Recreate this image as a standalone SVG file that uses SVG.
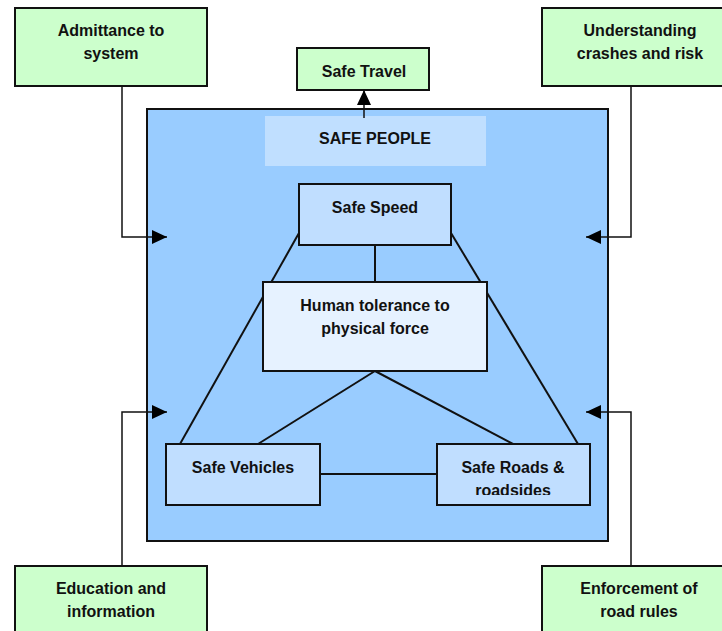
<svg xmlns="http://www.w3.org/2000/svg" width="722" height="631" viewBox="0 0 722 631">
<style>
text{font-family:"Liberation Sans",Arial,sans-serif;font-weight:bold;font-size:16px;fill:#111;text-anchor:middle}
.g{fill:#CCFFCC;stroke:#111;stroke-width:2}
.b{fill:#C0DEFF;stroke:#111;stroke-width:2}
.c{fill:none;stroke:#111;stroke-width:2}
</style>
<defs>
<marker id="ah" viewBox="0 0 15 14" refX="15" refY="7" markerWidth="15" markerHeight="14" markerUnits="userSpaceOnUse" orient="auto">
<path d="M0,0L15,7L0,14Z" fill="#000"/>
</marker>
<clipPath id="clipRoads"><rect x="437" y="444" width="153" height="51"/></clipPath>
</defs>
<rect x="0" y="0" width="722" height="631" fill="#fff"/>
<g id="main-area">
<rect x="147" y="109" width="461" height="432" fill="#99CCFF" stroke="#111" stroke-width="2"/>
</g>
<g id="safe-people">
<rect x="265" y="116" width="221" height="50" fill="#C0DFFF"/>
<text x="375" y="144">SAFE PEOPLE</text>
</g>
<g id="connectors">
<path class="c" d="M122,86V237H167" marker-end="url(#ah)" style="stroke-width:1.5"/>
<path class="c" d="M631,86V237H586" marker-end="url(#ah)" style="stroke-width:1.5"/>
<path class="c" d="M122,566V412H167" marker-end="url(#ah)" style="stroke-width:1.5"/>
<path class="c" d="M631,566V412H586" marker-end="url(#ah)" style="stroke-width:1.5"/>
<path class="c" d="M364,118V90" marker-end="url(#ah)" style="stroke-width:1.5"/>
<line class="c" x1="375" y1="245" x2="375" y2="282"/>
<line class="c" x1="299" y1="233" x2="180" y2="444"/>
<line class="c" x1="451" y1="233" x2="578" y2="444"/>
<line class="c" x1="375" y1="371" x2="258" y2="444"/>
<line class="c" x1="375" y1="371" x2="513" y2="444"/>
<line class="c" x1="320" y1="474" x2="437" y2="474"/>
</g>
<g id="admittance">
<rect class="g" x="15" y="8" width="192" height="78"/>
<text x="111" y="36">Admittance to</text>
<text x="111" y="59">system</text>
</g>
<g id="understanding">
<rect class="g" x="542" y="8" width="200" height="78"/>
<text x="640" y="36">Understanding</text>
<text x="640" y="59">crashes and risk</text>
</g>
<g id="safe-travel">
<rect class="g" x="297" y="48" width="132" height="42"/>
<text x="364" y="77">Safe Travel</text>
</g>
<g id="education">
<rect class="g" x="15" y="566" width="192" height="80"/>
<text x="111" y="594">Education and</text>
<text x="111" y="617">information</text>
</g>
<g id="enforcement">
<rect class="g" x="542" y="566" width="200" height="80"/>
<text x="639" y="594">Enforcement of</text>
<text x="639" y="617">road rules</text>
</g>
<g id="safe-speed">
<rect class="b" x="299" y="184" width="152" height="61"/>
<text x="375" y="213">Safe Speed</text>
</g>
<g id="human-tolerance">
<rect x="263" y="282" width="224" height="89" fill="#E6F2FF" stroke="#111" stroke-width="2"/>
<text x="375" y="311">Human tolerance to</text>
<text x="375" y="334">physical force</text>
</g>
<g id="safe-vehicles">
<rect class="b" x="166" y="444" width="154" height="61"/>
<text x="243" y="473">Safe Vehicles</text>
</g>
<g id="safe-roads">
<rect class="b" x="437" y="444" width="153" height="61"/>
<text x="513" y="473">Safe Roads &amp;</text>
<text x="513" y="496" clip-path="url(#clipRoads)">roadsides</text>
</g>
</svg>
